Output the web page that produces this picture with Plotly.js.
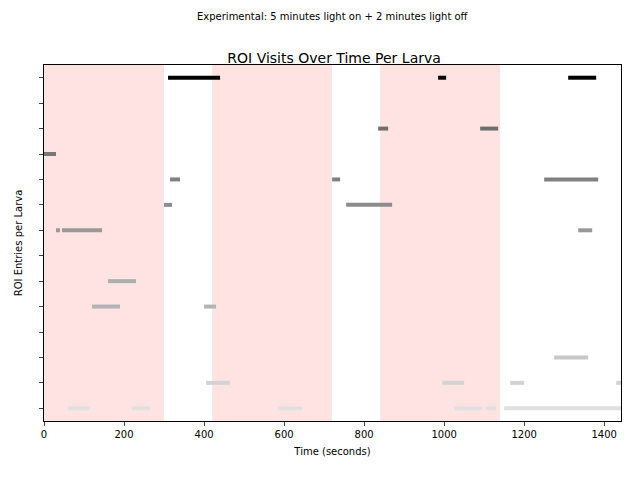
<!DOCTYPE html>
<html>
<head>
<script src="https://cdn.plot.ly/plotly-3.0.1.min.js"></script>
<style>body{margin:0}</style>
</head>
<body>
<div id="chart" style="width:640px;height:480px"></div>
<script>
// light-on periods (seconds)
const lightStart = [0, 420, 840];
const lightEnd = [300, 720, 1140];

// visits per larva: [start, end] in seconds, row 0 at top
const visitStart = [
  [310, 985, 1310],
  [],
  [835, 1090],
  [0],
  [315, 720, 1250],
  [300, 755],
  [30, 45, 1335],
  [],
  [160],
  [120, 400],
  [],
  [1275],
  [405, 995, 1165, 1430],
  [60, 220, 585, 1025, 1105, 1150]
];
const visitEnd = [
  [440, 1005, 1380],
  [],
  [860, 1135],
  [30],
  [340, 740, 1385],
  [320, 870],
  [40, 145, 1370],
  [],
  [230],
  [190, 430],
  [],
  [1360],
  [465, 1050, 1200, 1442],
  [115, 265, 645, 1095, 1130, 1442]
];

// row colours, top to bottom
const rowColor = ["#000000", "#555555", "#6f6f6f", "#777777", "#808080", "#8c8c8c", "#999999",
  "#a3a3a3", "#aeaeae", "#b3b3b3", "#bdbdbd", "#c8c8c8", "#d3d3d3", "#e0e0e0"];

const nRows = visitStart.length;
const traces = visitStart.map((starts, i) => {
  const x = [], y = [];
  starts.forEach((s, j) => {
    x.push(s, visitEnd[i][j], null);
    y.push(i, i, null);
  });
  return {
    x, y, type: "scatter", mode: "lines",
    line: { color: rowColor[i], width: 4 },
    hoverinfo: "skip", showlegend: false
  };
});

const shapes = lightStart.map((s, i) => ({
  type: "rect", xref: "x", yref: "paper",
  x0: s, x1: lightEnd[i], y0: 0, y1: 1,
  fillcolor: "rgba(255,0,0,0.11)", line: { width: 0 }, layer: "below"
}));

const layout = {
  width: 640, height: 480,
  margin: { l: 44, r: 19, t: 65, b: 59 },
  paper_bgcolor: "white", plot_bgcolor: "white",
  font: { family: "DejaVu Sans", size: 10, color: "black" },
  title: { text: "ROI Visits Over Time Per Larva", font: { size: 14 }, x: 0.522, y: 0.89, xanchor: "center" },
  annotations: [{
    text: "Experimental: 5 minutes light on + 2 minutes light off",
    xref: "paper", yref: "paper", x: 0.5, y: 1.158, showarrow: false,
    xanchor: "center", font: { size: 10 }
  }],
  shapes,
  xaxis: {
    range: [0, 1442], tickvals: [0, 200, 400, 600, 800, 1000, 1200, 1400],
    ticks: "outside", ticklen: 4, showgrid: false, zeroline: false,
    showline: true, mirror: true, linecolor: "black", linewidth: 1,
    title: { text: "Time (seconds)", standoff: 8, font: { size: 10 } }
  },
  yaxis: {
    range: [nRows - 0.5, -0.5], tickvals: [...Array(nRows).keys()],
    showticklabels: false, ticks: "outside", ticklen: 4,
    showgrid: false, zeroline: false,
    showline: true, mirror: true, linecolor: "black", linewidth: 1,
    title: { text: "ROI Entries per Larva", standoff: 14, font: { size: 10 } }
  }
};

Plotly.newPlot("chart", traces, layout, { displayModeBar: false });
</script>
</body>
</html>
